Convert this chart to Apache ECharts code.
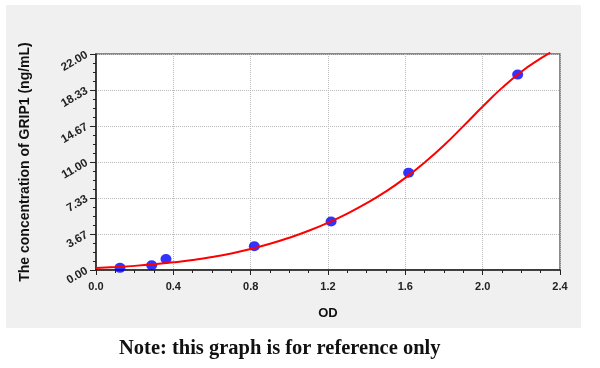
<!DOCTYPE html>
<html>
<head>
<meta charset="utf-8">
<script src="https://cdn.jsdelivr.net/npm/echarts@6/dist/echarts.min.js"></script>
<style>
html,body{margin:0;padding:0;background:#fff;}
#c{width:600px;height:368px;}
</style>
</head>
<body>
<div id="c"></div>
<script>
// Standard points (OD, concentration)
var pointOD = [0.124, 0.288, 0.362, 0.819, 1.216, 1.617, 2.181];
var pointConc = [0.22, 0.48, 1.12, 2.42, 4.94, 9.9, 19.9];
// Fitted curve
var curveOD = [0, 0.1, 0.2, 0.3, 0.4, 0.5, 0.6, 0.7, 0.8, 0.9, 1.0, 1.1, 1.2, 1.3, 1.4, 1.5, 1.6, 1.7, 1.8, 1.9, 2.0, 2.1, 2.2, 2.3, 2.35];
var curveConc = [0.2, 0.3, 0.42, 0.58, 0.78, 1.02, 1.32, 1.69, 2.14, 2.67, 3.29, 4.0, 4.82, 5.75, 6.8, 8.0, 9.38, 10.95, 12.7, 14.65, 16.65, 18.55, 20.2, 21.55, 22.15];
var xTicks = ['0.0', '0.4', '0.8', '1.2', '1.6', '2.0', '2.4'];
var yTicks = ['0.00', '3.67', '7.33', '11.00', '14.67', '18.33', '22.00'];

var chart = echarts.init(document.getElementById('c'), null, {renderer: 'canvas'});
var yMax = 22, yInt = 22 / 6;
var option = {
  animation: false,
  backgroundColor: '#ffffff',
  graphic: [
    {type: 'rect', z: -10, shape: {x: 6, y: 5, width: 575, height: 323}, style: {fill: '#f0f0f0'}},
    {type: 'text', left: 119, top: 338, z: 10,
      style: {text: 'Note: this graph is for reference only', font: 'bold 20.5px "Liberation Serif"', fill: '#111'}}
  ],
  grid: {left: 96, top: 54, width: 464, height: 216, show: true, backgroundColor: '#ffffff', borderColor: '#666', borderWidth: 1.5},
  xAxis: {
    type: 'value', min: 0, max: 2.4, interval: 0.4,
    name: 'OD', nameLocation: 'middle', nameGap: 37,
    nameTextStyle: {fontFamily: 'Liberation Sans', fontWeight: 'bold', fontSize: 13, color: '#111'},
    axisLine: {show: true, onZero: false, lineStyle: {color: '#222', width: 1.5}},
    axisTick: {show: true, length: 5, lineStyle: {color: '#222'}},
    minorTick: {show: true, splitNumber: 4, length: 3, lineStyle: {color: '#222'}},
    splitLine: {show: true, lineStyle: {color: '#bbb', type: 'dotted', width: 1}},
    axisLabel: {fontFamily: 'Liberation Sans', fontWeight: 'bold', fontSize: 11, color: '#222', margin: 11,
      formatter: function (v) { var i = Math.round(v / 0.4); return xTicks[i] || ''; }}
  },
  yAxis: {
    type: 'value', min: 0, max: yMax, interval: yInt,
    name: 'The concentration of GRIP1 (ng/mL)', nameLocation: 'middle', nameGap: 64,
    nameTextStyle: {fontFamily: 'Liberation Sans', fontWeight: 'bold', fontSize: 14, color: '#111'},
    axisLine: {show: true, onZero: false, lineStyle: {color: '#222', width: 1.5}},
    axisTick: {show: true, length: 6, lineStyle: {color: '#222'}},
    minorTick: {show: true, splitNumber: 4, length: 3, lineStyle: {color: '#222'}},
    splitLine: {show: true, lineStyle: {color: '#bbb', type: 'dotted', width: 1}},
    axisLabel: {fontFamily: 'Liberation Sans', fontWeight: 'bold', fontSize: 11.5, color: '#222', rotate: 30, margin: 9,
      formatter: function (v) { var i = Math.round(v / yInt); return yTicks[i] || ''; }}
  },
  series: [
    {type: 'scatter', z: 2, symbol: 'circle', symbolSize: [11, 10], itemStyle: {color: '#0000ff'},
      data: pointOD.map(function (x, i) { return [x, pointConc[i]]; })},
    {type: 'line', z: 3, smooth: 0.5, showSymbol: false, lineStyle: {color: '#ff0000', width: 2}, clip: false,
      data: curveOD.map(function (x, i) { return [x, curveConc[i]]; })}
  ]
};
chart.setOption(option);
</script>
</body>
</html>
